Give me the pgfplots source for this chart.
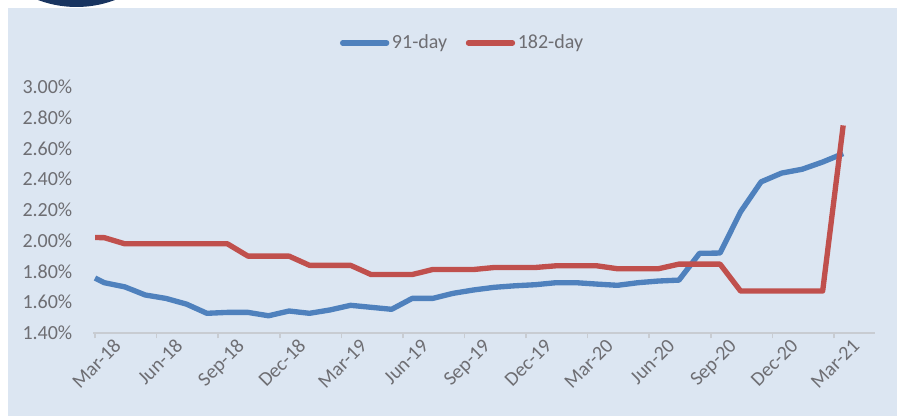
\documentclass[border=0pt]{standalone}
\usepackage{pgfplots}
\pgfplotsset{compat=1.18}
\usepackage{pgfplotstable}
\usepackage{fontspec}
\setmainfont{Carlito}
\definecolor{bgblue}{RGB}{220,230,242}
\definecolor{navy}{RGB}{24,52,96}
\definecolor{s91}{RGB}{79,129,189}
\definecolor{s182}{RGB}{192,80,77}
\definecolor{lblgray}{RGB}{110,110,115}
\definecolor{axgray}{RGB}{200,204,210}

\pgfplotstableread{
m     d91    d182
0     1.757  2.021
0.45  1.727  2.020
1.45  1.700  1.980
2.45  1.647  1.980
3.45  1.625  1.980
4.45  1.588  1.980
5.45  1.528  1.980
6.45  1.534  1.980
7.45  1.534  1.900
8.45  1.512  1.900
9.45  1.543  1.900
10.45 1.528  1.840
11.45 1.550  1.840
12.45 1.580  1.840
13.45 1.567  1.780
14.45 1.554  1.780
15.45 1.625  1.780
16.45 1.625  1.813
17.45 1.658  1.813
18.45 1.680  1.813
19.45 1.697  1.826
20.45 1.707  1.826
21.45 1.714  1.826
22.45 1.727  1.837
23.45 1.727  1.837
24.45 1.718  1.837
25.45 1.710  1.818
26.45 1.727  1.818
27.45 1.738  1.818
28.45 1.744  1.848
29.45 1.918  1.848
30.45 1.920  1.848
31.45 2.188  1.673
32.45 2.383  1.673
33.45 2.440  1.673
34.45 2.465  1.673
35.45 2.512  1.673
36.45 2.567  2.750
}\ratedata

\begin{document}
\begin{tikzpicture}
\useasboundingbox (0,0) rectangle (672.75pt,312pt);
\fill[white] (0,0) rectangle (672.75pt,312pt);
\fill[bgblue] (6pt,0) rectangle (672.75pt,306pt);
\begin{scope}
\clip (0,306pt) rectangle (672.75pt,312pt);
\fill[navy] (57.4pt,388.5pt) circle (81.75pt);
\end{scope}
\begin{axis}[
  at={(69.75pt,62.25pt)}, anchor=south west,
  scale only axis, width=586.5pt, height=184.5pt,
  xmin=-0.1, xmax=38.0, ymin=1.4, ymax=3.0,
  axis x line*=bottom, axis y line*=left,
  x axis line style={draw=axgray, line width=1.1pt},
  y axis line style={draw=none},
  xtick={0,3,...,36},
  xticklabels={Mar-18,Jun-18,Sep-18,Dec-18,Mar-19,Jun-19,Sep-19,Dec-19,Mar-20,Jun-20,Sep-20,Dec-20,Mar-21},
  ytick={1.4,1.6,...,3.01},
  yticklabel={\pgfmathprintnumber[fixed,fixed zerofill,precision=2]{\tick}\%},
  /pgf/number format/assume math mode=true,
  tick align=outside,
  x tick style={draw=axgray, line width=1.1pt},
  major tick length=4pt,
  y tick style={draw=none},
  ticklabel style={font=\fontsize{15}{18}\selectfont, text=lblgray},
  yticklabel style={anchor=east, xshift=-8pt},
  xticklabel style={rotate=45, anchor=north east, xshift=13pt, yshift=-5.5pt},
  legend style={at={(0.473,1.179)}, anchor=center, draw=none, fill=none,
    font=\fontsize{15}{18}\selectfont, text=lblgray,
    legend columns=2, /tikz/every even column/.append style={column sep=12pt}},
  legend image code/.code={\draw[#1, line cap=round] (0pt,0pt) -- (33pt,0pt);},
  clip=false,
]
\addplot[s91, line width=4pt, line join=round] table[x=m, y=d91] {\ratedata};
\addlegendentry{91-day}
\addplot[s182, line width=4pt, line join=round] table[x=m, y=d182] {\ratedata};
\addlegendentry{182-day}
\end{axis}
\end{tikzpicture}
\end{document}
